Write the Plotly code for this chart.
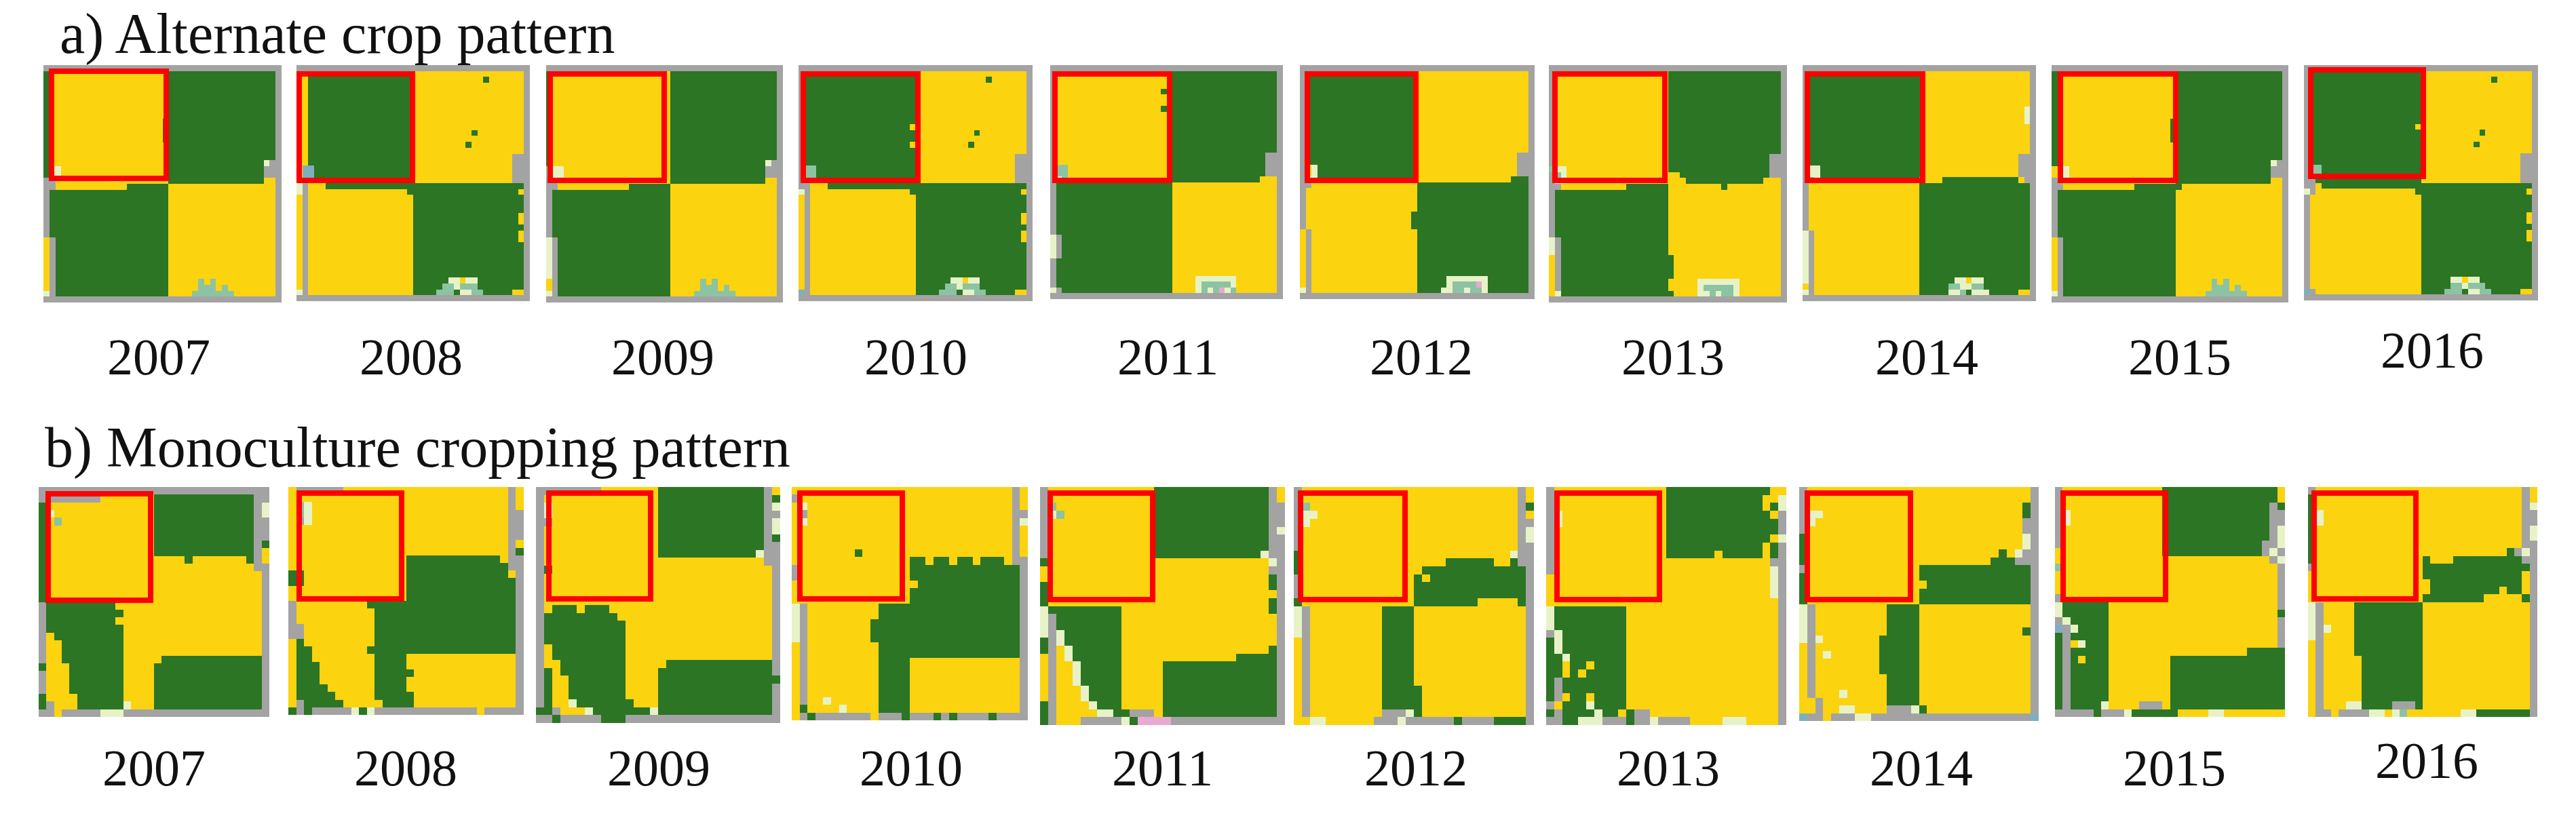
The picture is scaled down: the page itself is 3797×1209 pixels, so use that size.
import re

import plotly.graph_objects as go

W = 3797
H = 1209

YEARS = [2007, 2008, 2009, 2010, 2011, 2012, 2013, 2014, 2015, 2016]
TITLE_A = "a) Alternate crop pattern"
TITLE_B = "b) Monoculture cropping pattern"

# land cover classes in the rasters
CLASSES = ["g", "y", "a", "w", "t", "b", "p"]
CLASS_COLORS = ["#2b7524", "#fbd30f", "#a3a3a3", "#e7f3c6", "#8cc3a2", "#7fafbf", "#e9a9d0"]

# rasters, one row entry is "repeat*class+run..." (g corn, y soy, a other)
A_2007 = ["1*a40", "8*g1y20g18a1", "4*g1y19g19a1", "3*g1y20g18a1", "1*g1y20g16w1a2", "2*g1w2y18g16a3",
          "1*a2y19g16y2a1", "1*a2y12g7y18a1", "8*a1g20y18a1", "7*y1a1g19y18a1", "1*y1a1g19y5t1y1t1y10a1",
          "1*y1a1g19y5t3y1t1y8a1", "1*w1a1g19y4t7y7a1", "1*a40"]
A_2008 = ["1*a40", "1*y2g18y19a1", "1*y2g18y12g1y6a1", "8*y2g18y19a1", "1*y2g18y10g1y8a1", "1*y2g18y19a1",
          "1*y2g18y9g1y9a1", "1*y2g18y19a1", "2*y2g18y17a3", "3*y1b2g17y17a3", "1*w1a1y3g15g19a1",
          "1*w1a1y17g19y1a1", "3*y1a1y18g19a1", "2*y1a1y18g18y1a1", "1*y1a1y18g19a1", "2*y1a1y18g18y1a1",
          "6*y1a1y18g19a1", "1*y1a1y18g6w2y1w2g8a1", "1*y1a1y18g5t2w1t3g8a1", "1*w1a1y18g4t3g1w2t2g5y2a1", "1*a40"]
A_2009 = ["1*a40", "15*g1y20g18a1", "1*g1y20g16w1a2", "2*t1w2y18g16a3", "1*a2y19g16y2a1", "1*a2y12g7y18a1",
          "8*a1g20y18a1", "7*w1a1g19y18a1", "1*y1a1g19y5t1y1t1y10a1", "1*y1a1g19y5t3y1t1y8a1",
          "1*w1a1g19y4t7y7a1", "1*a40"]
A_2010 = ["1*a40", "1*a1g19y19a1", "1*a1g19y12g1y6a1", "7*a1g19y19a1", "1*a1g18y20a1", "1*a1g19y10g1y8a1",
          "1*a1g19y19a1", "1*a1g18y10g1y9a1", "1*a1g19y19a1", "2*a1g19y17a3", "3*a1t2g17y17a3", "1*a2y3g15g19a1",
          "1*w1a1y17g19y1a1", "3*y1a1y18g19a1", "2*y1a1y18g18y1a1", "1*y1a1y18g19a1", "2*y1a1y18g18y1a1",
          "6*y1a1y18g19a1", "1*y1a1y18g6w2y1w2g8a1", "1*y1a1y18g5t2w1t3g8a1", "1*b1a1y18g4t3g1w2t2g5y2a1", "1*a40"]
A_2011 = ["1*a40", "3*a1y19g19a1", "1*a1y18g20a1", "1*a1y19g19a1", "1*a1y19g19a1", "1*a1y18g20a1", "7*a1y19g19a1",
          "2*a1y19g17a3", "2*a1t2y17g17a3", "1*a1w1t1y17g16y3a1", "1*a1g20y18a1", "8*a1g20y18a1", "4*w1a1g19y18a1",
          "3*a1g20y18a1", "1*a1g20y4w7y7a1", "1*a1g20y4w1t5w1y7a1", "1*w1a1g19y4w1t1w1t1p1w1t1y7a1", "1*a40"]
A_2012 = ["1*a40", "14*a1g19y19a1", "2*a1g19y17a3", "2*a1y1w1g17y17a3", "1*a1w2g17y16g3a1", "1*a2y18g19a1",
          "4*a1y19g19a1", "3*a1y18g20a1", "8*y1a1y18g19a1", "1*y1a1y18g5w7g7a1", "1*y1a1y18g5w1t4p1w1g7a1",
          "1*w1a1y18g4w2t2w1t2w1g7a1", "1*a40"]
A_2013 = ["1*a40", "8*a1y19g19a1", "6*a1y19g19a1", "2*a1y19g17a3", "1*t1w2y17g17a3", "1*a1t1w1y17y2g15a3",
          "1*a1w2y17y3g13y3a1", "1*a2y11g7y9g1y9a1", "8*a1g19y19a1", "3*w1a1g18y19a1", "4*y1a1g19y18a1",
          "1*y1a1g18y5w7y7a1", "1*y1a1g18y5w1t5w1y7a1", "1*y1w1g19y4w2t1w1t2w1y7a1", "1*a40"]
A_2014 = ["1*a40", "6*a1g20y18a1", "3*a1g20y17w1a1", "5*a1g20y18a1", "2*a1g20y16a3", "2*a1w2g18y16a3",
          "1*a1t1w1g17y4g13y1a2", "1*a1y19g19a1", "7*a1y19g19a1", "8*w1a1y18g19a1", "1*w1a1y18g6w2y1w2g8a1",
          "1*y1a1y18g5t2w2t2g8a1", "1*w1a1y18g5w2t1g1w3g5y2a1", "1*a40"]
A_2015 = ["1*a40", "8*g1y20g18a1", "4*g1y19g19a1", "3*g1y20g18a1", "1*g1y20g16w1a2", "2*y1w2y18g16a3",
          "1*a2y19g16y2a1", "1*a2y12g8y17a1", "8*a1g20y18a1", "7*y1a1g19y18a1", "1*y1a1g19y6t1y1t1y9a1",
          "1*y1a1g19y6t3y1t1y7a1", "1*w1a1g19y5t7y6a1", "1*a40"]
A_2016 = ["1*a40", "1*a1g19y19a1", "1*a1g19y12g1y6a1", "7*a1g19y19a1", "1*a1g18y20a1", "1*a1g19y10g1y8a1",
          "1*a1g19y19a1", "1*a1g19y9g1y9a1", "1*a1g19y19a1", "2*a1g19y17a3", "2*a1t2g17y17a3", "1*a2g18y17a3",
          "1*a2y1g17g19a1", "1*w1a1y17g19y1a1", "3*a1y19g19a1", "2*a1y19g18y1a1", "1*a1y19g19a1", "2*a1y19g18y1a1",
          "6*a1y19g19a1", "1*a1y19g5w2y1w2g9a1", "1*a1y19g5t2w1t3g8a1", "1*b1a1y18g4t3g1w2t2g5y2a1", "1*a40"]

B_2007 = ["1*a30", "1*a8y7g13a2", "1*g1y14g13a1w1", "1*g1w1y13g13a1w1", "1*g1y1t1y12g13a2", "2*g1y14g13a2",
          "1*g1y14g13a1g1", "1*g1y14g13a1y1", "1*g1y18g1y7g1a1y1", "1*g1y27a2", "4*g1y28a1", "1*a1g9y19a1",
          "1*a1g10y18a1", "1*a1g9y19a1", "1*a1g10y18a1", "1*a1y1g9y18a1", "2*a1y2g8y18a1", "1*a1y2g8y5g13a1",
          "1*g1y3g7y4g14a1", "3*a1y3g7y4g14a1", "1*g1y4g6y4g14a1", "1*g1a1y3g6w1y3g14a1", "1*a2y1a5w3a19"]
B_2008 = ["1*y1a6y21a1y1", "1*y28a1y1", "1*y1t1w1y25a1y1", "1*y1t1w1y25a2", "1*y1a1w1y25a2", "2*y28a2", "1*y28a1y1",
          "1*y28a1g1", "1*y15g12y1a2", "1*y15g13a2", "1*g2y13g13y1a1", "1*g2y13g14a1", "2*y15g14a1", "1*a1y9g19a1",
          "2*a1y10g18a1", "2*a2y9g18a1", "1*y1g1y9g18a1", "1*y1g2y7g19a1", "1*y1g2y8g4y14a1", "1*y1g3y7g4y14a1",
          "1*y1g3y7g5y13a1", "1*y1g3y7g4y14a1", "1*y1g4y6g4y14a1", "1*y1g5y5g5y13a1", "1*y1a1g5y5g4y13a1",
          "1*g1a1g1a5w1g1w1a13y1a5"]
B_2009 = ["1*a8y7g13a1y1", "1*a1y14g13a1g1", "1*a1w1y13g13a1w1", "1*a1w1y13g13a2", "1*a2y13g13a1w1", "1*a1y14g13a1w1",
          "1*a1y14g13a1g1", "1*a1y14g13a2", "1*a1y14g12w1a2", "1*a1y27a2", "1*a1g1y27a1", "4*a1y28a1",
          "1*a1y1g3y1g3y20a1", "1*a1g9y19a1", "3*a1g10y18a1", "2*a1y1g9y18a1", "1*a1y2g8y5g13a1", "1*a1g1y1g8y4g14a1",
          "1*a1g1y2g7y4g15", "2*a1g1y2g7y4g14a1", "1*a1g1y2w1g7y3g14a1", "1*g2a1y3w1g7w1g14a1", "1*a2g1a5g3a19"]
B_2010 = ["1*y28a1y1", "1*a1y27a1y1", "1*y1w1y26a1y1", "1*y1a1y26a2", "1*y1w1y26a1w1", "3*y28a1y1", "1*y8g1y19a1y1",
          "1*y15g2y1g2y1g2y1g3y1a2", "2*a1y14g14a1", "1*y16g13a1", "2*y15g14a1", "2*w1a1y9g18a1", "3*w1a1y8g19a1",
          "2*y1a1y9g18a1", "5*y1a1y9g4y14a1", "1*y1a1y2w1y6g4y14a1", "1*y1g1y4w1y4g4y14a1",
          "1*y1a1g1a7y1a3g1a3g1a1g1a4g1a4"]
B_2011 = ["2*a1y13g14a1y1", "1*a1t1y12g14a2", "1*a1w1t1y11g14a2", "1*a1y13g14a2", "1*a1y13g14a1w1", "2*a1y13g14a2",
          "1*a1y13g13w1a2", "1*g1y27w1a1", "1*y28a2", "1*y28g1a1", "1*g1y27g1a1", "1*g1y28a1", "1*g1y27g1a1",
          "1*w1g9y18g1a1", "2*w1a1g8y19a1", "1*w1a1w1g7y19a1", "1*g1a1w1g7y19a1", "1*g1a1y1w1g6y18g1a1",
          "1*y1a1y1w1g6y14g5a1", "3*y1a1y2w1g5y5g14a1", "2*y1a1y3w1g4y5g14a1", "1*g1a1y4w1g3y5g14a1",
          "1*g1a1y5w2g2a3y1g14a1", "1*g1a1y3a5w1g1p4a14"]
B_2012 = ["2*a1y27a1y1", "1*a1t1y26a1g1", "1*a1w2y25a1y1", "1*a1w1y26a2", "2*a1y27a1w1", "1*a1y27a2", "1*g1y26w1a2",
          "1*g1y18g6y2g1a2", "1*g1y15g13a1", "1*a1y14g1y1g12a1", "2*a1y14g14a1", "1*g1y14g8y5g1a1", "4*w1a1y9g4y14a1",
          "6*y1a1y9g4y14a1", "3*y1a1y9g5y13a1", "1*y1a1y9a3w1g1y13a1", "1*y2w2y6a3w1a6g1a4g4a1"]
B_2013 = ["1*a1y14g13y2", "1*a1y14g12y2w1", "1*a1y14g12y1g1w1", "1*a1w1y13g13y1a1", "1*a1w1y13g14a1", "1*a1y14g14a1",
          "1*a1y14g13y1w1", "1*a1y14g12y1g1a1", "1*a1y14g6y1g5y1g1a1", "1*a1y27a2", "1*a1y27w1a1", "3*y28w1a1", "1*y29a1",
          "3*w1g9y19a1", "1*a1w1g8y19a1", "2*g1w1g8y19a1", "1*g2w1g7y19a1", "1*g2y1g2y1g4y19a1", "1*g2y1g1y1g5y19a1",
          "2*g1a1g8y19a1", "1*g1a1y1g2y1g4y19a1", "1*a1y1g3w1g4y19a1", "1*g1a1g4w1g2y1g1a2y16a1",
          "1*a2g2w3a3g1a2w1a4y4w3y4a1"]
B_2014 = ["2*a1y28a1", "1*a1y27g1a1", "1*a1w2y25g1a1", "1*a1w1y26a2", "1*a1y27a2", "2*g1y27w1a1", "1*g1y24g1y1w1a2",
          "1*g1y23g3a3", "1*a1y14g14a1", "1*g1y14g14a1", "1*g1y15g13a1", "2*g1y14g14a1", "3*w1a1y9g4y14a1",
          "1*w1a1y9g4y13g1a1", "1*w1a1w1y7g5y14a1", "1*y1a1y8g5y14a1", "1*y1a1y1w1y6g5y14a1", "2*y1a1y8g5y14a1",
          "1*y1a1y9g4y14a1", "1*y1a1y9g4y14a1", "1*y1a1y3w1y5g4y14a1", "1*y2a1y8g4y14a1",
          "1*y2a1y2w2y4a3w1g1y13a1", "1*b1a2y1a3w2a20b1"]
B_2015 = ["2*a1y13g15y1", "1*a1y13g14a1g1", "2*a1w1y12g14a2", "2*a1y13g14a1w1", "1*a1y13g13a2w1", "1*y14g13a1w1a1",
          "1*y28a1w1", "1*t1y28a1", "3*y29a1", "1*a1y28a1", "1*w1g6y22a1", "1*w1g6y22g1", "1*a1w1g5y22a1",
          "1*b1a1w1g4y22a1", "1*g1a1g5y22a1", "1*g1a1y1w1g3y22a1", "1*g1a1g5y18g5", "1*g1a1g1y1g3y8g15",
          "5*g1a1g5y8g15", "1*g1a1g4w1y4a3y1g15", "1*a5g1a3w1g6y4w2y8"]
B_2016 = ["1*a1y27a1y1", "1*g1y27a1y1", "1*g1y27a1w1", "2*g1w1y26a2", "2*g1y27a1w1", "1*g1y27a2", "1*g1y25g1a1w1a1",
          "1*g1y14g1y3g9a2", "1*a1y14g14a1", "1*y15g13y1a1", "1*y16g12y1a1", "1*y16g9y1g2y1a1", "1*y15g8y5g1a1",
          "3*w1a1y4g9y14a1", "1*w1a1w1y3g9y14a1", "1*w1a1y4g9y14a1", "2*y1a1y4g9y14a1", "6*y1a1y5g8y14a1",
          "1*y1a1y3w2g4a3g1y14a1", "1*y1a2y1a4w2y1w1t1y7w2g7a1"]

ALT_PANELS = [A_2007, A_2008, A_2009, A_2010, A_2011, A_2012, A_2013, A_2014, A_2015, A_2016]
MONO_PANELS = [B_2007, B_2008, B_2009, B_2010, B_2011, B_2012, B_2013, B_2014, B_2015, B_2016]

# layout in page pixels: x0, x1, y0, y1
ALT_BOXES = [(64, 415, 96, 446), (437, 781, 96, 444), (805, 1154, 96, 446), (1177, 1522, 96, 444),
             (1548, 1891, 96, 441), (1916, 2262, 96, 441), (2283, 2634, 96, 446), (2657, 3001, 96, 444),
             (3024, 3373, 96, 446), (3396, 3741, 96, 443)]
ALT_FRAMES = [(72, 249, 101, 267), (437, 612, 105, 270), (807, 983, 105, 270), (1180, 1357, 105, 270),
              (1551, 1728, 105, 270), (1923, 2091, 105, 270), (2288, 2458, 105, 270), (2660, 2838, 105, 270),
              (3033, 3211, 105, 270), (3402, 3576, 99, 264)]
MONO_BOXES = [(57, 397, 718, 1057), (425, 772, 718, 1054), (790, 1150, 718, 1066), (1167, 1515, 718, 1062),
              (1533, 1894, 718, 1069), (1907, 2261, 718, 1069), (2279, 2633, 718, 1069), (2652, 3005, 718, 1063),
              (3029, 3368, 718, 1057), (3402, 3740, 718, 1057)]
MONO_FRAMES = [(67, 226, 724, 889), (437, 596, 723, 887), (805, 963, 723, 887), (1175, 1334, 723, 887),
               (1544, 1703, 723, 888), (1913, 2075, 723, 888), (2291, 2450, 723, 888), (2660, 2820, 723, 888),
               (3037, 3196, 723, 888), (3407, 3565, 723, 887)]
ALT_LABEL_XY = [(234, 526), (606, 526), (977, 526), (1350, 526), (1721, 526), (2095, 526), (2466, 526),
                (2840, 526), (3213, 526), (3585, 516)]
MONO_LABEL_XY = [(227, 1132), (598, 1132), (971, 1132), (1343, 1132), (1713, 1132), (2087, 1132), (2459, 1132),
                 (2832, 1132), (3205, 1132), (3577, 1121)]

FONT = "Liberation Serif"
YEAR_SIZE = 76
TITLE_SIZE = 84


def expand(rows, n):
    out = []
    for entry in rows:
        count, runs = entry.split("*")
        row = []
        for c, k in re.findall(r"([a-z])(\d+)", runs):
            row += [CLASSES.index(c)] * int(k)
        row = (row + [row[-1]] * n)[:n]
        out += [row] * int(count)
    return (out + [out[-1]] * n)[:n]


def colorscale():
    steps = []
    k = len(CLASS_COLORS)
    for i, col in enumerate(CLASS_COLORS):
        steps.append([i / k, col])
        steps.append([(i + 1) / k, col])
    return steps


def addPanel(fig, idx, rows, n, box):
    z = expand(rows, n)
    name = "" if idx == 1 else str(idx)
    fig.add_trace(go.Heatmap(z=z, x0=0.5, dx=1, y0=0.5, dy=1, zmin=-0.5, zmax=len(CLASSES) - 0.5,
                             colorscale=colorscale(), showscale=False, hoverinfo="skip",
                             xaxis="x" + name, yaxis="y" + name))
    fig.update_layout({
        "xaxis" + name: dict(domain=[box[0] / W, box[1] / W], range=[0, n], visible=False, fixedrange=True),
        "yaxis" + name: dict(domain=[1 - box[3] / H, 1 - box[2] / H], range=[n, 0], visible=False, fixedrange=True),
    })


def addFrame(fig, frame):
    # stroke is centred on the path, the numbers are its outer edge
    inset = 4
    fig.add_shape(type="rect", xref="paper", yref="paper",
                  x0=(frame[0] + inset) / W, x1=(frame[1] - inset) / W,
                  y0=1 - (frame[3] - inset) / H, y1=1 - (frame[2] + inset) / H,
                  line=dict(color="#fe0000", width=8), layer="above")


def addText(fig, text, x, y, anchor, size):
    fig.add_annotation(text=text, x=x / W, y=1 - y / H, xref="paper", yref="paper", showarrow=False,
                       xanchor=anchor, yanchor="middle", font=dict(family=FONT, size=size, color="#111111"))


fig = go.Figure()

idx = 1
for rows, box, frame in zip(ALT_PANELS, ALT_BOXES, ALT_FRAMES):
    addPanel(fig, idx, rows, 40, box)
    addFrame(fig, frame)
    idx += 1
for rows, box, frame in zip(MONO_PANELS, MONO_BOXES, MONO_FRAMES):
    addPanel(fig, idx, rows, 30, box)
    addFrame(fig, frame)
    idx += 1

for year, (x, y) in zip(YEARS, ALT_LABEL_XY):
    addText(fig, str(year), x, y, "center", YEAR_SIZE)
for year, (x, y) in zip(YEARS, MONO_LABEL_XY):
    addText(fig, str(year), x, y, "center", YEAR_SIZE)
addText(fig, TITLE_A, 86, 50, "left", TITLE_SIZE)
addText(fig, TITLE_B, 64, 660, "left", TITLE_SIZE)

fig.update_layout(width=W, height=H, margin=dict(l=0, r=0, t=0, b=0), paper_bgcolor="white",
                  plot_bgcolor="white", showlegend=False)

fig.write_html("out.html", config={"displayModeBar": False},
               post_script="document.body.style.margin='0';document.body.style.overflow='hidden';")
